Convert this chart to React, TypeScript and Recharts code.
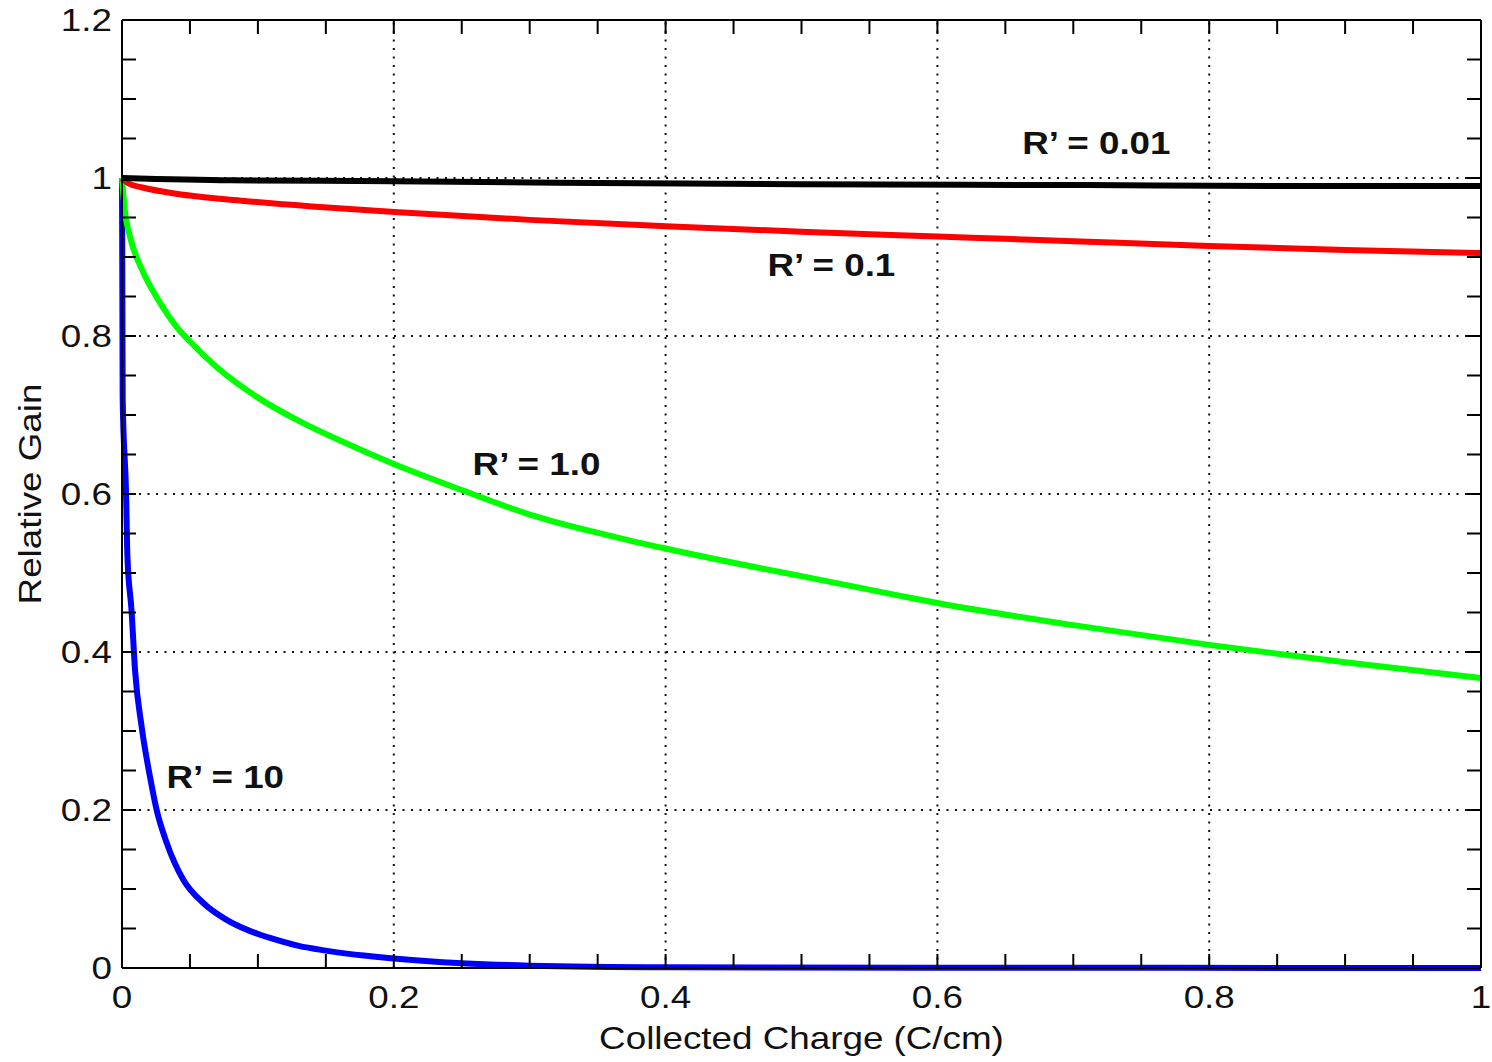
import React from "react";
import {
  LineChart,
  Line,
  XAxis,
  YAxis,
  ReferenceLine,
  ReferenceDot,
  Label,
} from "recharts";

const blackX = [0, 0.08, 0.2, 0.32, 0.5, 0.71, 0.85, 1.0];
const blackY = [1.0, 0.997, 0.996, 0.994, 0.992, 0.991, 0.99, 0.99];

const redX = [0, 0.005, 0.015, 0.04, 0.09, 0.14, 0.21, 0.3, 0.4, 0.5, 0.6, 0.65, 0.7, 0.8, 0.9, 1.0];
const redY = [1.0, 0.993, 0.988, 0.98, 0.971, 0.964, 0.956, 0.947, 0.939, 0.932, 0.926, 0.923, 0.92, 0.914, 0.909, 0.905];

const greenX = [0, 0.002, 0.006, 0.015, 0.028, 0.04, 0.05, 0.07, 0.1, 0.133, 0.16, 0.2, 0.25, 0.3, 0.357, 0.4, 0.47, 0.5, 0.57, 0.6, 0.7, 0.8, 0.9, 1.0];
const greenY = [1.0, 0.96, 0.925, 0.883, 0.842, 0.812, 0.793, 0.76, 0.722, 0.69, 0.668, 0.638, 0.605, 0.574, 0.548, 0.531, 0.506, 0.496, 0.472, 0.462, 0.434, 0.409, 0.387, 0.367];

const blueX = [0, 0.0005, 0.003, 0.004, 0.007, 0.0096, 0.0145, 0.0206, 0.0255, 0.033, 0.045, 0.06, 0.077, 0.094, 0.109, 0.13, 0.15, 0.2, 0.25, 0.3, 0.4, 0.6, 1.0];
const blueY = [1.0, 0.72, 0.6, 0.52, 0.453, 0.377, 0.305, 0.242, 0.2, 0.158, 0.112, 0.082, 0.061, 0.047, 0.038, 0.028, 0.022, 0.012, 0.006, 0.003, 0.001, 0.0003, 0.0001];

const xTicks = [0, 0.05, 0.1, 0.15, 0.2, 0.25, 0.3, 0.35, 0.4, 0.45, 0.5, 0.55, 0.6, 0.65, 0.7, 0.75, 0.8, 0.85, 0.9, 0.95, 1];
const yTicks = [0, 0.05, 0.1, 0.15, 0.2, 0.25, 0.3, 0.35, 0.4, 0.45, 0.5, 0.55, 0.6, 0.65, 0.7, 0.75, 0.8, 0.85, 0.9, 0.95, 1, 1.05, 1.1, 1.15, 1.2];
const xGrid = [0.2, 0.4, 0.6, 0.8];
const yGrid = [0.2, 0.4, 0.6, 0.8, 1.0];

const curveLabels = [
  { x: 0.717, y: 1.044, text: "R\u2019 = 0.01" },
  { x: 0.522, y: 0.89, text: "R\u2019 = 0.1" },
  { x: 0.305, y: 0.638, text: "R\u2019 = 1.0" },
  { x: 0.076, y: 0.242, text: "R\u2019 = 10" },
];

const zip = (xs: number[], ys: number[]) => xs.map((x, i) => ({ x, y: ys[i] }));

const FONT = "'Liberation Sans', Arial, Helvetica, sans-serif";
const STRETCH = 1.15;
const TICK_LEN = 14;
const isMajor = (v: number) => Math.abs(v * 5 - Math.round(v * 5)) < 1e-6;

function BottomTick({ x, y, payload }: any) {
  const v = payload.value as number;
  return (
    <g>
      <line x1={x} x2={x} y1={y} y2={y - TICK_LEN} stroke="#000" strokeWidth={2} />
      {isMajor(v) && (
        <g transform={`translate(${x},${y + 29}) scale(${STRETCH},1)`}>
          <text x={0} y={0} textAnchor="middle" dominantBaseline="central" fontSize={32} fontFamily={FONT} fill="#111">
            {String(Math.round(v * 10) / 10)}
          </text>
        </g>
      )}
    </g>
  );
}

function TopTick({ x, y }: any) {
  return <line x1={x} x2={x} y1={y} y2={y + TICK_LEN} stroke="#000" strokeWidth={2} />;
}

function LeftTick({ x, y, payload }: any) {
  const v = payload.value as number;
  return (
    <g>
      <line x1={x} x2={x + TICK_LEN} y1={y} y2={y} stroke="#000" strokeWidth={2} />
      {isMajor(v) && (
        <g transform={`translate(${x - 10},${y}) scale(${STRETCH},1)`}>
          <text x={0} y={0} textAnchor="end" dominantBaseline="central" fontSize={32} fontFamily={FONT} fill="#111">
            {String(Math.round(v * 10) / 10)}
          </text>
        </g>
      )}
    </g>
  );
}

function RightTick({ x, y }: any) {
  return <line x1={x} x2={x - TICK_LEN} y1={y} y2={y} stroke="#000" strokeWidth={2} />;
}

function XTitle({ viewBox }: any) {
  const cx = viewBox.x + viewBox.width / 2;
  return (
    <g transform={`translate(${cx},${viewBox.y + 70}) scale(${STRETCH},1)`}>
      <text textAnchor="middle" dominantBaseline="central" fontSize={32} fontFamily={FONT} fill="#111">
        Collected Charge (C/cm)
      </text>
    </g>
  );
}

function YTitle({ viewBox }: any) {
  const cy = viewBox.y + viewBox.height / 2;
  return (
    <g transform={`translate(30,${cy}) rotate(-90) scale(${STRETCH},1)`}>
      <text textAnchor="middle" dominantBaseline="central" fontSize={32} fontFamily={FONT} fill="#111">
        Relative Gain
      </text>
    </g>
  );
}

function CurveLabel(text: string) {
  return ({ viewBox }: any) => (
    <g transform={`translate(${viewBox.x},${viewBox.y}) scale(${STRETCH},1)`}>
      <text textAnchor="middle" dominantBaseline="central" fontSize={32} fontWeight="bold" fontFamily={FONT} fill="#111">
        {text}
      </text>
    </g>
  );
}

const series = [
  { name: "R' = 10", data: zip(blueX, blueY), color: "#0000ff" },
  { name: "R' = 1.0", data: zip(greenX, greenY), color: "#00ff00" },
  { name: "R' = 0.1", data: zip(redX, redY), color: "#ff0000" },
  { name: "R' = 0.01", data: zip(blackX, blackY), color: "#000000" },
];

export default function App() {
  return (
    <div style={{ position: "absolute", left: 0, top: 0, background: "#fff" }}>
      <LineChart width={1492} height={1062} margin={{ top: 19, right: 10, bottom: 0, left: 0 }}>
        <XAxis
          xAxisId="x"
          dataKey="x"
          type="number"
          domain={[0, 1]}
          ticks={xTicks}
          interval={0}
          tickSize={0}
          tickMargin={0}
          tickLine={false}
          height={94}
          axisLine={{ stroke: "#000", strokeWidth: 2 }}
          tick={<BottomTick />}
          allowDuplicatedCategory={false}
        >
          <Label content={<XTitle />} />
        </XAxis>
        <XAxis
          xAxisId="top"
          orientation="top"
          dataKey="x"
          type="number"
          domain={[0, 1]}
          ticks={xTicks}
          interval={0}
          tickSize={0}
          tickMargin={0}
          tickLine={false}
          height={1}
          axisLine={{ stroke: "#000", strokeWidth: 2 }}
          tick={<TopTick />}
        />
        <YAxis
          yAxisId="y"
          type="number"
          domain={[0, 1.2]}
          ticks={yTicks}
          interval={0}
          tickSize={0}
          tickMargin={0}
          tickLine={false}
          width={122}
          axisLine={{ stroke: "#000", strokeWidth: 2 }}
          tick={<LeftTick />}
        >
          <Label content={<YTitle />} />
        </YAxis>
        <YAxis
          yAxisId="right"
          orientation="right"
          type="number"
          domain={[0, 1.2]}
          ticks={yTicks}
          interval={0}
          tickSize={0}
          tickMargin={0}
          tickLine={false}
          width={1}
          axisLine={{ stroke: "#000", strokeWidth: 2 }}
          tick={<RightTick />}
        />
        {xGrid.map((v) => (
          <ReferenceLine key={`gx${v}`} xAxisId="x" yAxisId="y" x={v} stroke="#111" strokeWidth={2} strokeDasharray="2 6.5" />
        ))}
        {yGrid.map((v) => (
          <ReferenceLine key={`gy${v}`} xAxisId="x" yAxisId="y" y={v} stroke="#111" strokeWidth={2} strokeDasharray="2 6.5" />
        ))}
        {/* invisible series so the top and right frame axes have something bound */}
        <Line
          xAxisId="top"
          yAxisId="right"
          data={zip(blackX, blackY)}
          dataKey="y"
          stroke="none"
          dot={false}
          activeDot={false}
          legendType="none"
          isAnimationActive={false}
        />
        {series.map((s) => (
          <Line
            key={s.name}
            xAxisId="x"
            yAxisId="y"
            data={s.data}
            dataKey="y"
            name={s.name}
            type="monotone"
            stroke={s.color}
            strokeWidth={6}
            dot={false}
            activeDot={false}
            isAnimationActive={false}
          />
        ))}
        {curveLabels.map((l) => (
          <ReferenceDot
            key={l.text}
            xAxisId="x"
            yAxisId="y"
            x={l.x}
            y={l.y}
            r={0}
            fill="none"
            stroke="none"
            label={CurveLabel(l.text)}
          />
        ))}
      </LineChart>
    </div>
  );
}
